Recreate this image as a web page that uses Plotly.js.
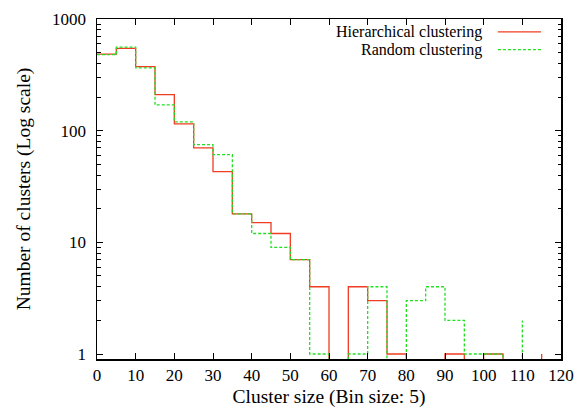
<!DOCTYPE html>
<html><head><meta charset="utf-8">
<script src="https://cdn.plot.ly/plotly-3.0.1.min.js"></script>
<style>html,body{margin:0;padding:0;background:#fff}#chart{width:585px;height:410px}</style>
</head><body><div id="chart"></div>
<script>
// Bin start positions (bin size 5)
const binStartsHier = [0,5,10,15,20,25,30,35,40,45,50,55,60,65,70,75,80,85,90,95,100,105,110,115];
const hierCounts    = [485,545,375,210,115,70,43,18,15,12,7,4,0,4,3,1,0,0,1,0,1,0,0,1];
const binStartsRand = [0,5,10,15,20,25,30,35,40,45,50,55,60,65,70,75,80,85,90,95,100,105,110];
const randCounts    = [480,560,365,170,120,75,61,18,12,9,7,1,0,1,4,0,3,4,2,1,1,0,2];
const seriesNames = ["Hierarchical clustering","Random clustering"];
const xTicks = [0,10,20,30,40,50,60,70,80,90,100,110,120];
const yTicks = [1,10,100,1000];

// zero counts lie below the log axis; plot them off-scale so the step drops to the frame
const offScale = v => v > 0 ? v : 1e-3;

const red = "#f03c22", green = "#22e022";
const traces = [
  {x: binStartsHier, y: hierCounts.map(offScale), type:"scatter", mode:"lines",
   line:{shape:"hv", color:red, width:1.3}, name:seriesNames[0], showlegend:false},
  {x: binStartsRand, y: randCounts.map(offScale), type:"scatter", mode:"lines",
   line:{shape:"hv", color:green, width:1.3, dash:"3px,2px"}, name:seriesNames[1], showlegend:false}
];
const font = {family:"Liberation Serif, Times New Roman, serif", size:17, color:"#000"};
const layout = {
  width:585, height:410,
  margin:{l:97, r:24, t:19, b:51},
  paper_bgcolor:"#fff", plot_bgcolor:"#fff",
  font: font,
  xaxis:{range:[0,120], tickvals:xTicks, ticktext:xTicks.map(String),
    ticks:"inside", ticklen:6, tickwidth:1, tickcolor:"#000",
    showline:true, linecolor:"#000", linewidth:1.5, mirror:"ticks",
    showgrid:false, zeroline:false, tickfont:{size:17},
    title:{text:"Cluster size (Bin size: 5)", font:{size:19.5}, standoff:5}},
  yaxis:{type:"log", range:[-0.0448,3], tickvals:yTicks, ticktext:yTicks.map(String),
    ticks:"inside", ticklen:6, tickwidth:1, tickcolor:"#000",
    minor:{ticks:"inside", ticklen:3.5, tickwidth:1, tickcolor:"#000", dtick:"D1", showgrid:false},
    showline:true, linecolor:"#000", linewidth:1.5, mirror:"ticks",
    showgrid:false, zeroline:false, ticklabelstandoff:6, tickfont:{size:17},
    title:{text:"Number of clusters (Log scale)", font:{size:19.5}, standoff:16}},
  annotations:[
    {xref:"paper", yref:"paper", x:0.835, y:0.962, xanchor:"right", yanchor:"middle",
     text:seriesNames[0], showarrow:false, font:{size:16}},
    {xref:"paper", yref:"paper", x:0.835, y:0.910, xanchor:"right", yanchor:"middle",
     text:seriesNames[1], showarrow:false, font:{size:16}}
  ],
  shapes:[
    {type:"line", xref:"paper", yref:"paper", x0:0.864, x1:0.957, y0:0.962, y1:0.962,
     line:{color:red, width:1.3}},
    {type:"line", xref:"paper", yref:"paper", x0:0.864, x1:0.957, y0:0.910, y1:0.910,
     line:{color:green, width:1.3, dash:"3px,2px"}}
  ]
};
Plotly.newPlot("chart", traces, layout, {displayModeBar:false, staticPlot:true});
</script></body></html>
